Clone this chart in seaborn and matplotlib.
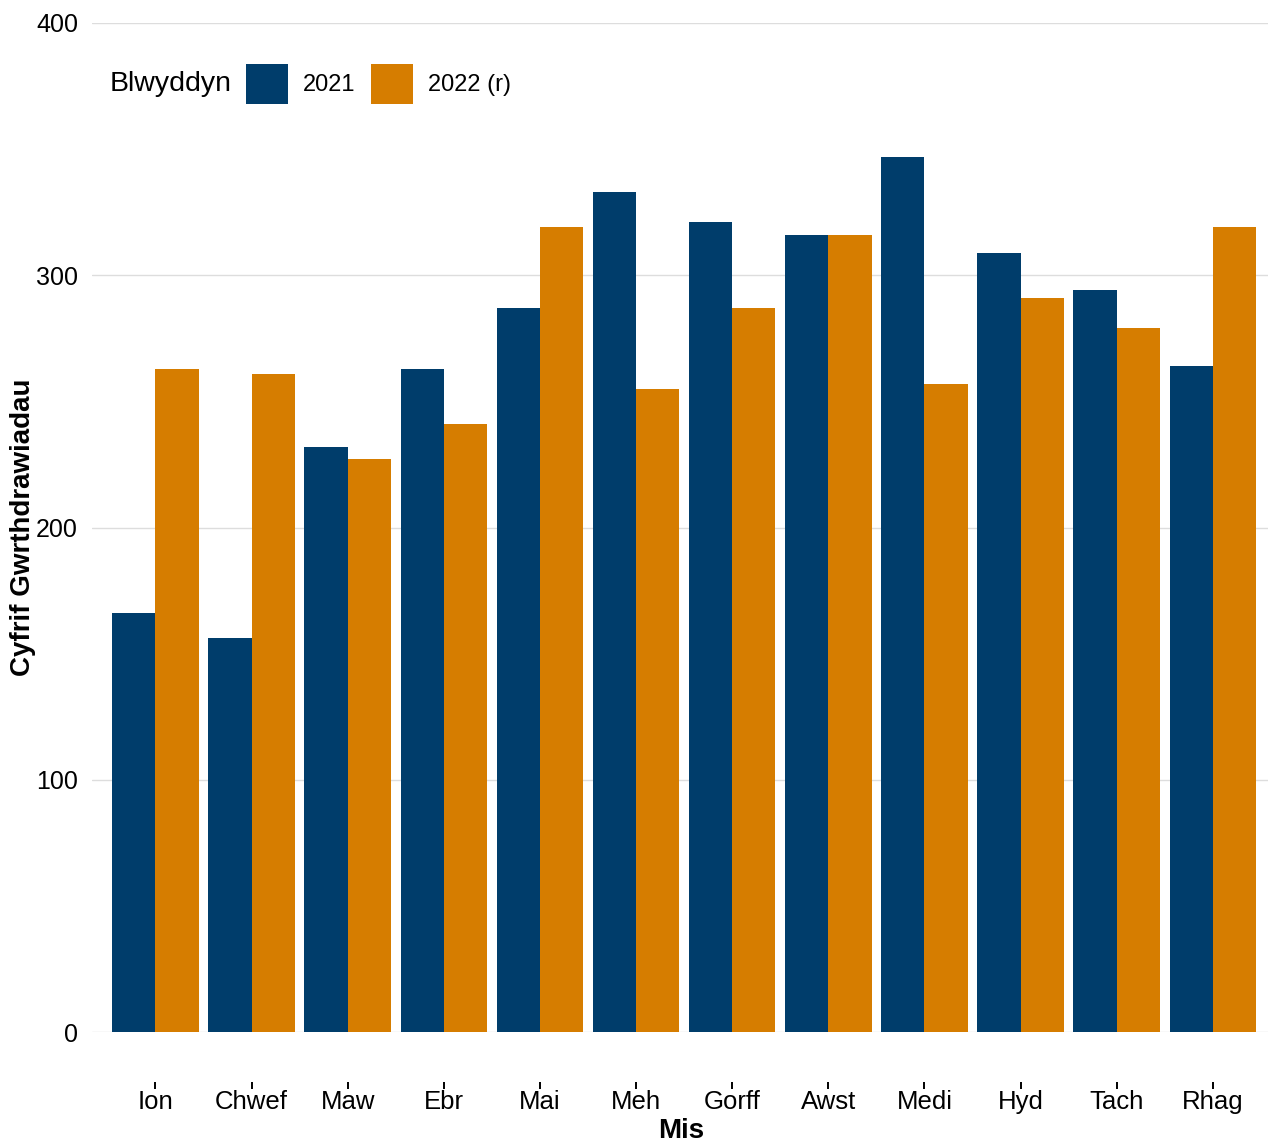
import pandas as pd
import seaborn as sns
import matplotlib.pyplot as plt
from matplotlib.offsetbox import HPacker

# Data
months = ['Ion', 'Chwef', 'Maw', 'Ebr', 'Mai', 'Meh', 'Gorff', 'Awst', 'Medi', 'Hyd', 'Tach', 'Rhag']
years = ['2021', '2022 (r)']
counts_2021 = [166, 156, 232, 263, 287, 333, 321, 316, 347, 309, 294, 264]
counts_2022 = [263, 261, 227, 241, 319, 255, 287, 316, 257, 291, 279, 319]
colours = ['#003D6B', '#D67D00']

df = pd.DataFrame({
    'Mis': months * 2,
    'Blwyddyn': [years[0]] * 12 + [years[1]] * 12,
    'Cyfrif': counts_2021 + counts_2022,
})

sns.set_theme(style='white')
plt.rcParams['font.family'] = ['Liberation Sans', 'DejaVu Sans']
plt.rcParams['text.color'] = 'black'

W, H = 1268, 1144
fig = plt.figure(figsize=(W / 100, H / 100), dpi=100)
ax = fig.add_axes([92 / W, 1 - 1032 / H, 1 - 92 / W + 0.002, (1032 - 23) / H])

sns.barplot(data=df, x='Mis', y='Cyfrif', hue='Blwyddyn', order=months, hue_order=years,
            palette=colours, width=0.9, saturation=1, linewidth=0, ax=ax, legend=True)

ax.set_ylim(0, 400)
ax.set_xlim(-0.66, 11.6)
ax.set_yticks([0, 100, 200, 300, 400])
ax.yaxis.grid(True, color='#DDDDDD', linewidth=1)
ax.set_axisbelow(True)
for s in ax.spines.values():
    s.set_visible(False)
ax.spines['bottom'].set_position(('outward', 36))

ax.tick_params(axis='y', length=0, pad=10, labelsize=18, labelcolor='black')
ax.tick_params(axis='x', length=5, width=1.4, color='black', direction='out', pad=0.5,
               labelsize=18.5, labelcolor='black', bottom=True)

ax.set_ylabel('Cyfrif Gwrthdrawiadau', fontsize=20, fontweight='bold', color='black')
ax.set_xlabel('Mis', fontsize=20, fontweight='bold', color='black')
ax.yaxis.set_label_coords(-0.0476, 0.5)
ax.xaxis.set_label_coords(0.5, -0.0855)

handles, labels = ax.get_legend_handles_labels()
ax.legend(handles, labels, title='Blwyddyn', ncol=2, loc='center left',
          bbox_to_anchor=(0.0153, 0.9395), frameon=False, fontsize=17, title_fontsize=20.5,
          handlelength=1.78, handleheight=2.2, handletextpad=0.64, columnspacing=0.64,
          borderpad=0, borderaxespad=0, labelcolor='black')
leg = ax.get_legend()
leg.get_title().set_color('black')
# put the legend title on the same line as the entries
title_box = leg._legend_title_box
children = leg._legend_box.get_children()
leg._legend_box._children = [HPacker(pad=0, sep=10, align='center',
                                     children=[title_box, children[1]])]

fig.savefig('out.png', dpi=100)
